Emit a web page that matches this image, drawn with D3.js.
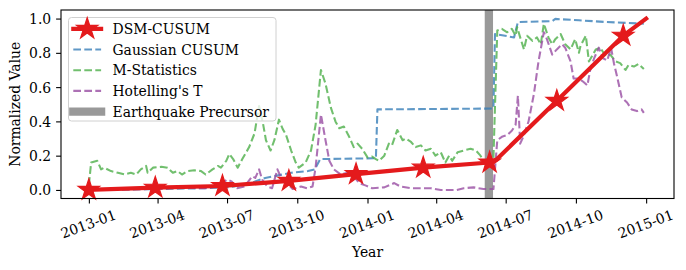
<!DOCTYPE html>
<html>
<head>
<meta charset="utf-8">
<script src="https://cdn.jsdelivr.net/npm/d3@7"></script>
<style>
body { margin: 0; background: #fff; }
svg text { font-family: "DejaVu Serif", serif !important; font-size: 13.9px; fill: #000; }
</style>
</head>
<body>
<svg id="chart" width="686" height="270"></svg>
<script>

// DSM-CUSUM (stars only on some points)
var dsmDates  = ["2013-01-01","2013-03-29","2013-06-25","2013-09-20","2013-12-17","2014-03-15","2014-06-10","2014-06-19","2014-09-06","2014-12-02","2015-01-01"];
var dsmValues = [0.0, 0.013, 0.023, 0.053, 0.092, 0.13, 0.16, 0.178, 0.52, 0.90, 1.0];
var dsmStars  = [0, 1, 2, 3, 4, 5, 6, 8, 9];

// Gaussian CUSUM
var gaussDates  = ["2013-01-01","2013-04-01","2013-06-01","2013-07-01","2013-07-10","2013-08-01","2013-08-20","2013-09-23","2013-10-15","2013-10-24","2013-10-31","2014-01-12","2014-01-14","2014-06-15","2014-06-17","2014-07-12","2014-07-17","2014-08-31","2014-09-04","2014-10-05","2014-11-09","2014-12-29"];
var gaussValues = [0.0, 0.005, 0.01, 0.015, 0.02, 0.04, 0.07, 0.10, 0.11, 0.12, 0.18, 0.185, 0.47, 0.475, 0.91, 0.89, 0.98, 0.985, 0.998, 0.99, 0.98, 0.97];

// M-Statistics
var mstatDates = ["2013-01-01","2013-01-04","2013-01-12","2013-01-17","2013-01-21","2013-01-30","2013-02-08","2013-02-17","2013-02-25","2013-03-04",
  "2013-03-10","2013-03-17","2013-03-19","2013-03-26","2013-04-06","2013-04-14","2013-04-21","2013-04-27","2013-05-03","2013-05-10",
  "2013-05-19","2013-05-28","2013-06-03","2013-06-12","2013-06-19","2013-06-23","2013-06-30","2013-07-04","2013-07-09","2013-07-15",
  "2013-07-21","2013-07-30","2013-08-06","2013-08-12","2013-08-17","2013-08-21","2013-08-27","2013-09-01","2013-09-07","2013-09-12",
  "2013-09-16","2013-09-23","2013-09-29","2013-10-03","2013-10-12","2013-10-19","2013-10-25","2013-11-01","2013-11-07","2013-11-14",
  "2013-11-20","2013-11-25","2013-12-01","2013-12-08","2013-12-14","2013-12-19","2013-12-25","2014-01-01","2014-01-07","2014-01-12",
  "2014-01-16","2014-01-23","2014-01-29","2014-02-02","2014-02-09","2014-02-16","2014-02-20","2014-02-27","2014-03-05","2014-03-12",
  "2014-03-18","2014-03-25","2014-03-31","2014-04-07","2014-04-13","2014-04-18","2014-04-22","2014-04-29","2014-05-07","2014-05-16",
  "2014-05-23","2014-05-29","2014-06-02","2014-06-15","2014-06-20","2014-06-26","2014-07-03","2014-07-09","2014-07-14","2014-07-16",
  "2014-07-20","2014-07-25","2014-07-29","2014-08-05","2014-08-11","2014-08-16","2014-08-20","2014-08-26","2014-08-31","2014-09-04",
  "2014-09-11","2014-09-17","2014-09-24","2014-09-30","2014-10-05","2014-10-07","2014-10-14","2014-10-18","2014-10-22","2014-10-27",
  "2014-11-02","2014-11-09","2014-11-15","2014-11-22","2014-11-28","2014-12-05","2014-12-09","2014-12-16","2014-12-22","2014-12-29"];
var mstatValues = [0.03, 0.16, 0.17, 0.12, 0.13, 0.11, 0.10, 0.09, 0.10, 0.09,
  0.12, 0.14, 0.10, 0.13, 0.135, 0.13, 0.10, 0.11, 0.09, 0.11,
  0.115, 0.11, 0.09, 0.12, 0.14, 0.13, 0.17, 0.21, 0.18, 0.13,
  0.18, 0.25, 0.33, 0.49, 0.39, 0.29, 0.23, 0.29, 0.41, 0.355,
  0.325, 0.23, 0.16, 0.13, 0.16, 0.23, 0.38, 0.70, 0.62, 0.48,
  0.40, 0.36, 0.37, 0.31, 0.25, 0.27, 0.24, 0.19, 0.195, 0.18,
  0.17, 0.20, 0.27, 0.26, 0.35, 0.29, 0.30, 0.28, 0.25, 0.26,
  0.23, 0.24, 0.20, 0.22, 0.16, 0.20, 0.17, 0.22, 0.23, 0.24,
  0.23, 0.20, 0.17, 0.19, 0.93, 0.94, 0.92, 0.94, 0.90, 0.95,
  0.89, 0.82, 0.90, 0.87, 0.89, 0.85, 0.97, 0.89, 0.85, 0.88,
  0.91, 0.85, 0.82, 0.88, 0.80, 0.84, 0.90, 0.75, 0.78, 0.82,
  0.83, 0.78, 0.79, 0.75, 0.74, 0.70, 0.73, 0.72, 0.735, 0.705];

// Hotelling's T
var hotDates = ["2013-01-01","2013-03-21","2013-04-30","2013-06-01","2013-06-18","2013-07-01","2013-07-07","2013-07-14","2013-07-24","2013-08-03",
  "2013-08-07","2013-08-12","2013-08-16","2013-08-23","2013-08-29","2013-09-05","2013-09-10","2013-09-18","2013-09-25","2013-10-06",
  "2013-10-14","2013-10-21","2013-10-25","2013-11-01","2013-11-07","2013-11-12","2013-11-18","2013-11-27","2013-12-06","2013-12-14",
  "2013-12-21","2013-12-30","2014-01-07","2014-01-23","2014-02-05","2014-02-13","2014-02-27","2014-03-25","2014-04-07","2014-04-28",
  "2014-05-07","2014-05-20","2014-06-02","2014-06-15","2014-06-20","2014-06-26","2014-07-03","2014-07-09","2014-07-14","2014-07-17",
  "2014-07-20","2014-07-24","2014-07-31","2014-08-07","2014-08-13","2014-08-20","2014-08-24","2014-08-31","2014-09-06","2014-09-13",
  "2014-09-17","2014-09-24","2014-09-28","2014-10-05","2014-10-11","2014-10-16","2014-10-20","2014-10-25","2014-10-31","2014-11-05",
  "2014-11-11","2014-11-16","2014-11-20","2014-11-24","2014-11-30","2014-12-07","2014-12-13","2014-12-20","2014-12-26","2014-12-29"];
var hotValues = [0.0, 0.005, 0.013, 0.01, 0.02, 0.06, 0.05, 0.01, 0.02, 0.08,
  0.07, 0.12, 0.06, 0.02, 0.01, 0.12, 0.07, 0.04, 0.005, 0.02,
  0.01, 0.02, 0.13, 0.44, 0.29, 0.17, 0.12, 0.09, 0.10, 0.08,
  0.04, 0.025, 0.01, 0.015, 0.04, 0.02, 0.01, 0.01, 0.0, 0.0,
  0.01, 0.015, 0.005, 0.005, 0.29, 0.31, 0.32, 0.345, 0.38, 0.55,
  0.27, 0.31, 0.40, 0.56, 0.75, 0.92, 0.88, 0.79, 0.82, 0.85,
  0.83, 0.75, 0.65, 0.65, 0.63, 0.61, 0.705, 0.77, 0.83, 0.77,
  0.755, 0.83, 0.735, 0.66, 0.54, 0.51, 0.47, 0.46, 0.47, 0.45];

var precursorDate = "2014-06-09";

var yTicks = [0.0, 0.2, 0.4, 0.6, 0.8, 1.0];
var legendNames = ["DSM-CUSUM", "Gaussian CUSUM", "M-Statistics", "Hotelling's T", "Earthquake Precursor"];

var parse = d3.timeParse("%Y-%m-%d");
function zipSeries(dates, values) {
  return dates.map((d, i) => ({date: parse(d), value: values[i]}));
}
var dsm   = zipSeries(dsmDates, dsmValues);
var gauss = zipSeries(gaussDates, gaussValues);
var mstat = zipSeries(mstatDates, mstatValues);
var hot   = zipSeries(hotDates, hotValues);

let padL = 61, padR = 674, padT = 10, padB = 198.5;
let dashPat = "7.7,3.3";   // matplotlib '--' at lw 1.5pt

let svg = d3.select("#chart");

// matplotlib style 5% padding on the date range
let ext = d3.extent(dsm, d => d.date);
let pad = (ext[1] - ext[0]) * 0.05;
let x = d3.scaleTime()
          .domain([new Date(+ext[0] - pad), new Date(+ext[1] + pad)])
          .range([padL, padR]);
let y = d3.scaleLinear()
          .domain([-0.05, 1.05])
          .range([padB, padT]);

let plot = svg.append("g");

// earthquake precursor band
plot.append("line")
    .attr("x1", x(parse(precursorDate))).attr("x2", x(parse(precursorDate)))
    .attr("y1", padT).attr("y2", padB)
    .attr("stroke", "#808080")
    .attr("stroke-opacity", 0.8)
    .attr("stroke-width", 8.3);

let line = d3.line().x(d => x(d.date)).y(d => y(d.value));

let dashed = [
  {data: gauss, color: "#377eb8"},
  {data: mstat, color: "#4daf4a"},
  {data: hot,   color: "#984ea3"}
];
dashed.forEach(s => {
  plot.append("path")
      .datum(s.data)
      .attr("d", line)
      .attr("fill", "none")
      .attr("stroke", s.color)
      .attr("stroke-opacity", 0.8)
      .attr("stroke-width", 2.08)
      .attr("stroke-dasharray", dashPat)
      .attr("stroke-linejoin", "round");
});

plot.append("path")
    .datum(dsm)
    .attr("d", line)
    .attr("fill", "none")
    .attr("stroke", "#e41a1c")
    .attr("stroke-width", 4.17)
    .attr("stroke-linejoin", "round")
    .attr("stroke-linecap", "square");

// star path, outer radius R
function starPath(R) {
  let pts = [];
  for (let i = 0; i < 10; i++) {
    let r = i % 2 == 0 ? R : R * 0.381966;
    let a = -Math.PI / 2 + i * Math.PI / 5;
    pts.push([r * Math.cos(a), r * Math.sin(a)]);
  }
  return "M" + pts.map(p => p[0].toFixed(2) + "," + p[1].toFixed(2)).join("L") + "Z";
}

plot.selectAll(".star")
    .data(dsmStars.map(i => dsm[i]))
    .enter()
    .append("path")
    .attr("class", "star")
    .attr("d", starPath(11.2))
    .attr("transform", d => "translate(" + x(d.date) + "," + y(d.value) + ")")
    .attr("fill", "#e41a1c")
    .attr("stroke", "#e41a1c")
    .attr("stroke-width", 1.2)
    .attr("stroke-linejoin", "miter");

// axes
let xAxis = d3.axisBottom(x)
              .tickValues(d3.timeMonth.every(3).range(parse("2013-01-01"), parse("2015-01-02")))
              .tickFormat(d3.timeFormat("%Y-%m"))
              .tickSize(4.9)
              .tickPadding(4.9);
let gx = svg.append("g")
            .attr("transform", "translate(0," + padB + ")")
            .call(xAxis)
            .attr("font-family", null)
            .attr("font-size", null);
gx.select(".domain").remove();
gx.selectAll("line").attr("stroke", "#000").attr("stroke-width", 1.1);
gx.selectAll("text")
  .attr("text-anchor", "middle")
  .attr("dominant-baseline", "central")
  .attr("dy", null)
  .attr("x", -1)
  .attr("y", 25.5)
  .attr("transform", "rotate(-20, -1, 25.5)");

let yAxis = d3.axisLeft(y)
              .tickValues(yTicks)
              .tickFormat(d3.format(".1f"))
              .tickSize(4.9)
              .tickPadding(4.9);
let gy = svg.append("g")
            .attr("transform", "translate(" + padL + ",0)")
            .call(yAxis)
            .attr("font-family", null)
            .attr("font-size", null);
gy.select(".domain").remove();
gy.selectAll("line").attr("stroke", "#000").attr("stroke-width", 1.1);
gy.selectAll("text").attr("dy", "0.36em");

// frame
svg.append("rect")
   .attr("x", padL).attr("y", padT)
   .attr("width", padR - padL).attr("height", padB - padT)
   .attr("fill", "none")
   .attr("stroke", "#000")
   .attr("stroke-width", 1.1);

svg.append("text")
   .attr("x", (padL + padR) / 2)
   .attr("y", 257)
   .attr("text-anchor", "middle")
   .text("Year");

svg.append("text")
   .attr("transform", "translate(20," + (padT + padB) / 2 + ") rotate(-90)")
   .attr("text-anchor", "middle")
   .text("Normalized Value");

// legend
let lg = svg.append("g");
lg.append("rect")
  .attr("x", 68.5).attr("y", 17.5)
  .attr("width", 207.5).attr("height", 103.5)
  .attr("rx", 3)
  .attr("fill", "#fff").attr("fill-opacity", 0.8)
  .attr("stroke", "#d0d0d0").attr("stroke-width", 1);

let legendStyle = [
  {color: "#e41a1c", width: 4.17, dash: null, opacity: 1, star: true},
  {color: "#377eb8", width: 2.08, dash: dashPat, opacity: 0.8},
  {color: "#4daf4a", width: 2.08, dash: dashPat, opacity: 0.8},
  {color: "#984ea3", width: 2.08, dash: dashPat, opacity: 0.8},
  {color: "#808080", width: 8.3, dash: null, opacity: 0.8}
];

legendNames.forEach((name, i) => {
  let cy = 28.8 + i * 20.7;
  let st = legendStyle[i];
  lg.append("line")
    .attr("x1", 73.3).attr("x2", 101.1)
    .attr("y1", cy).attr("y2", cy)
    .attr("stroke", st.color)
    .attr("stroke-width", st.width)
    .attr("stroke-opacity", st.opacity)
    .attr("stroke-dasharray", st.dash)
    .attr("stroke-linecap", (i == 0 || i == 4) ? "square" : "butt");
  if (st.star) {
    lg.append("path")
      .attr("d", starPath(11.2))
      .attr("transform", "translate(87.2," + cy + ")")
      .attr("fill", st.color)
      .attr("stroke", st.color)
      .attr("stroke-width", 1.2);
  }
  lg.append("text")
    .attr("x", 112.5)
    .attr("y", cy + 5)
    .text(name);
});

</script>
</body>
</html>
